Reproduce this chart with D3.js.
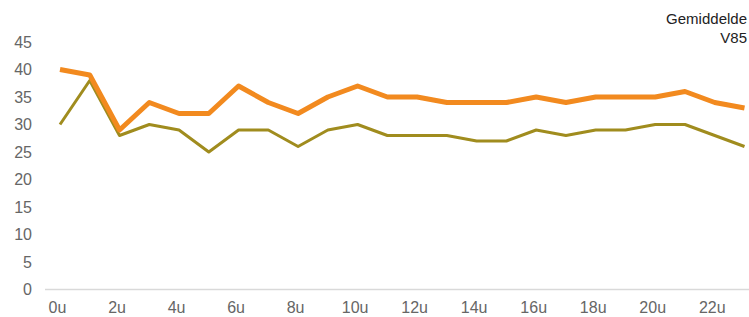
<!DOCTYPE html>
<html>
<head>
<meta charset="utf-8">
<script src="https://cdn.jsdelivr.net/npm/d3@7"></script>
<style>
  html, body { margin: 0; padding: 0; background: #fff; overflow: hidden; }
  text { font-family: "Liberation Sans", Arial, sans-serif; }
</style>
</head>
<body>
<div id="chart"></div>
<script>
var width = 749,
    height = 317;

// uren 0..23
var hours = d3.range(0, 24);
var tickHours = [0, 2, 4, 6, 8, 10, 12, 14, 16, 18, 20, 22];
var yTicks = [0, 5, 10, 15, 20, 25, 30, 35, 40, 45];

var v85 = [40, 39, 29, 34, 32, 32, 37, 34, 32, 35, 37, 35, 35, 34, 34, 34, 35, 34, 35, 35, 35, 36, 34, 33];
var gemiddelde = [30, 38, 28, 30, 29, 25, 29, 29, 26, 29, 30, 28, 28, 28, 27, 27, 29, 28, 29, 29, 30, 30, 28, 26];

var svg = d3.select("#chart")
  .append("svg")
  .attr("width", width)
  .attr("height", height);

var x = d3.scaleLinear().domain([0, 23]).range([60, 744.5]);
var y = d3.scaleLinear().domain([0, 45]).range([289.5, 42]);

// basislijn
svg.append("line")
  .attr("x1", 45).attr("x2", width)
  .attr("y1", y(0)).attr("y2", y(0))
  .attr("stroke", "#d9d9d9")
  .attr("stroke-width", 1.5);

// y labels
var yAxis = d3.axisLeft(y).tickValues(yTicks).tickSize(0).tickPadding(0);
svg.append("g")
  .attr("transform", "translate(32,0)")
  .call(yAxis)
  .call(function(g) { g.select(".domain").remove(); })
  .selectAll("text")
    .attr("font-size", 16)
    .attr("fill", "#666")
    .attr("font-family", "Liberation Sans, Arial, sans-serif");

// x labels
var xAxis = d3.axisBottom(x).tickValues(tickHours).tickSize(0).tickPadding(0)
  .tickFormat(function(d) { return d + "u"; });
svg.append("g")
  .attr("transform", "translate(-3," + (y(0) + 12.5) + ")")
  .call(xAxis)
  .call(function(g) { g.select(".domain").remove(); })
  .selectAll("text")
    .attr("font-size", 16)
    .attr("fill", "#666")
    .attr("font-family", "Liberation Sans, Arial, sans-serif");

var line = d3.line()
  .x(function(d, i) { return x(hours[i]); })
  .y(function(d) { return y(d); });

svg.append("path")
  .datum(gemiddelde)
  .attr("d", line)
  .attr("fill", "none")
  .attr("stroke", "#a08c1e")
  .attr("stroke-width", 3)
  .attr("stroke-linejoin", "round");

svg.append("path")
  .datum(v85)
  .attr("d", line)
  .attr("fill", "none")
  .attr("stroke", "#f28a1f")
  .attr("stroke-width", 5)
  .attr("stroke-linejoin", "round");

// legenda, rechts uitgelijnd tegen de rand
svg.append("text")
  .attr("x", 747).attr("y", 24)
  .attr("text-anchor", "end")
  .attr("font-size", 15)
  .attr("fill", "#222")
  .text("Gemiddelde");
svg.append("text")
  .attr("x", 747).attr("y", 42.5)
  .attr("text-anchor", "end")
  .attr("font-size", 15)
  .attr("fill", "#222")
  .text("V85");
</script>
</body>
</html>
